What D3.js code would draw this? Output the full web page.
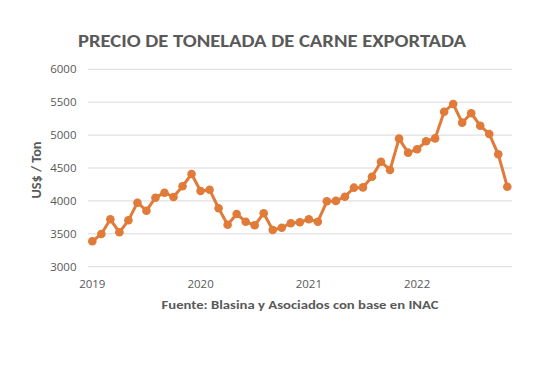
<!DOCTYPE html>
<html><head><meta charset="utf-8">
<script src="https://cdn.jsdelivr.net/npm/d3@7"></script>
<style>body{margin:0;background:#fff}svg{display:block}</style>
</head><body>
<script>
const months = d3.range(47).map(i => new Date(2019, i, 1));
const prices = [3386,3497,3720,3523,3705,3973,3851,4049,4125,4059,4222,4409,
  4151,4170,3888,3638,3801,3684,3629,3812,3558,3593,3660,3675,
  3720,3684,3994,4000,4064,4201,4205,4368,4596,4470,4946,4733,
  4784,4906,4950,5356,5473,5189,5332,5143,5017,4708,4216];
const yTicks = [3000,3500,4000,4500,5000,5500,6000];
const yearLabels = ["2019","2020","2021","2022"];
const title = "PRECIO DE TONELADA DE CARNE EXPORTADA";
const yTitle = "US$ / Ton";
const source = "Fuente: Blasina y Asociados con base en INAC";

const W = 540, H = 366;
const svg = d3.select("body").append("svg").attr("width", W).attr("height", H);
const font = "Calibri, Carlito, 'Open Sans', sans-serif";
const tickFont = "'Open Sans', sans-serif";
const x = d3.scaleLinear().domain([-0.5, 46.5]).range([87.8, 511.8]);
const y = d3.scaleLinear().domain([3000, 6000]).range([266.7, 69.3]);

svg.append("g").selectAll("line").data(yTicks).join("line")
  .attr("x1", x.range()[0]).attr("x2", x.range()[1])
  .attr("y1", d => y(d)).attr("y2", d => y(d))
  .attr("stroke", "#d9d9d9").attr("stroke-width", 1);

svg.append("g").selectAll("text").data(yTicks).join("text")
  .attr("x", 76.5).attr("y", d => y(d)).attr("dy", "0.35em")
  .attr("text-anchor", "end").attr("font-family", tickFont).attr("font-size", 11.5)
  .attr("fill", "#595959").text(d => d);

svg.append("g").selectAll("text").data(yearLabels).join("text")
  .attr("x", (d, i) => x(i * 12)).attr("y", 288)
  .attr("text-anchor", "middle").attr("font-family", tickFont).attr("font-size", 11.5)
  .attr("fill", "#595959").text(d => d);

const line = d3.line().x((d, i) => x(i)).y(d => y(d));
svg.append("path").datum(prices).attr("d", line)
  .attr("fill", "none").attr("stroke", "#E07B39").attr("stroke-width", 3)
  .attr("stroke-linejoin", "round");
svg.append("g").selectAll("circle").data(prices).join("circle")
  .attr("cx", (d, i) => x(i)).attr("cy", d => y(d)).attr("r", 4.3)
  .attr("fill", "#E07B39");

svg.append("text").attr("x", 272).attr("y", 47).attr("text-anchor", "middle")
  .attr("font-family", font).attr("font-weight", "bold").attr("font-size", 18)
  .attr("fill", "#595959").attr("textLength", 388).attr("lengthAdjust", "spacingAndGlyphs").text(title);

svg.append("text").attr("transform", "translate(40.5,170) rotate(-90)")
  .attr("text-anchor", "middle").attr("font-family", font).attr("font-weight", "bold")
  .attr("font-size", 13).attr("fill", "#595959")
  .attr("textLength", 57).attr("lengthAdjust", "spacingAndGlyphs").text(yTitle);

svg.append("text").attr("x", 300).attr("y", 309).attr("text-anchor", "middle")
  .attr("font-family", font).attr("font-weight", "bold").attr("font-size", 12.5)
  .attr("fill", "#595959").attr("textLength", 277).attr("lengthAdjust", "spacingAndGlyphs").text(source);
</script>
</body></html>
